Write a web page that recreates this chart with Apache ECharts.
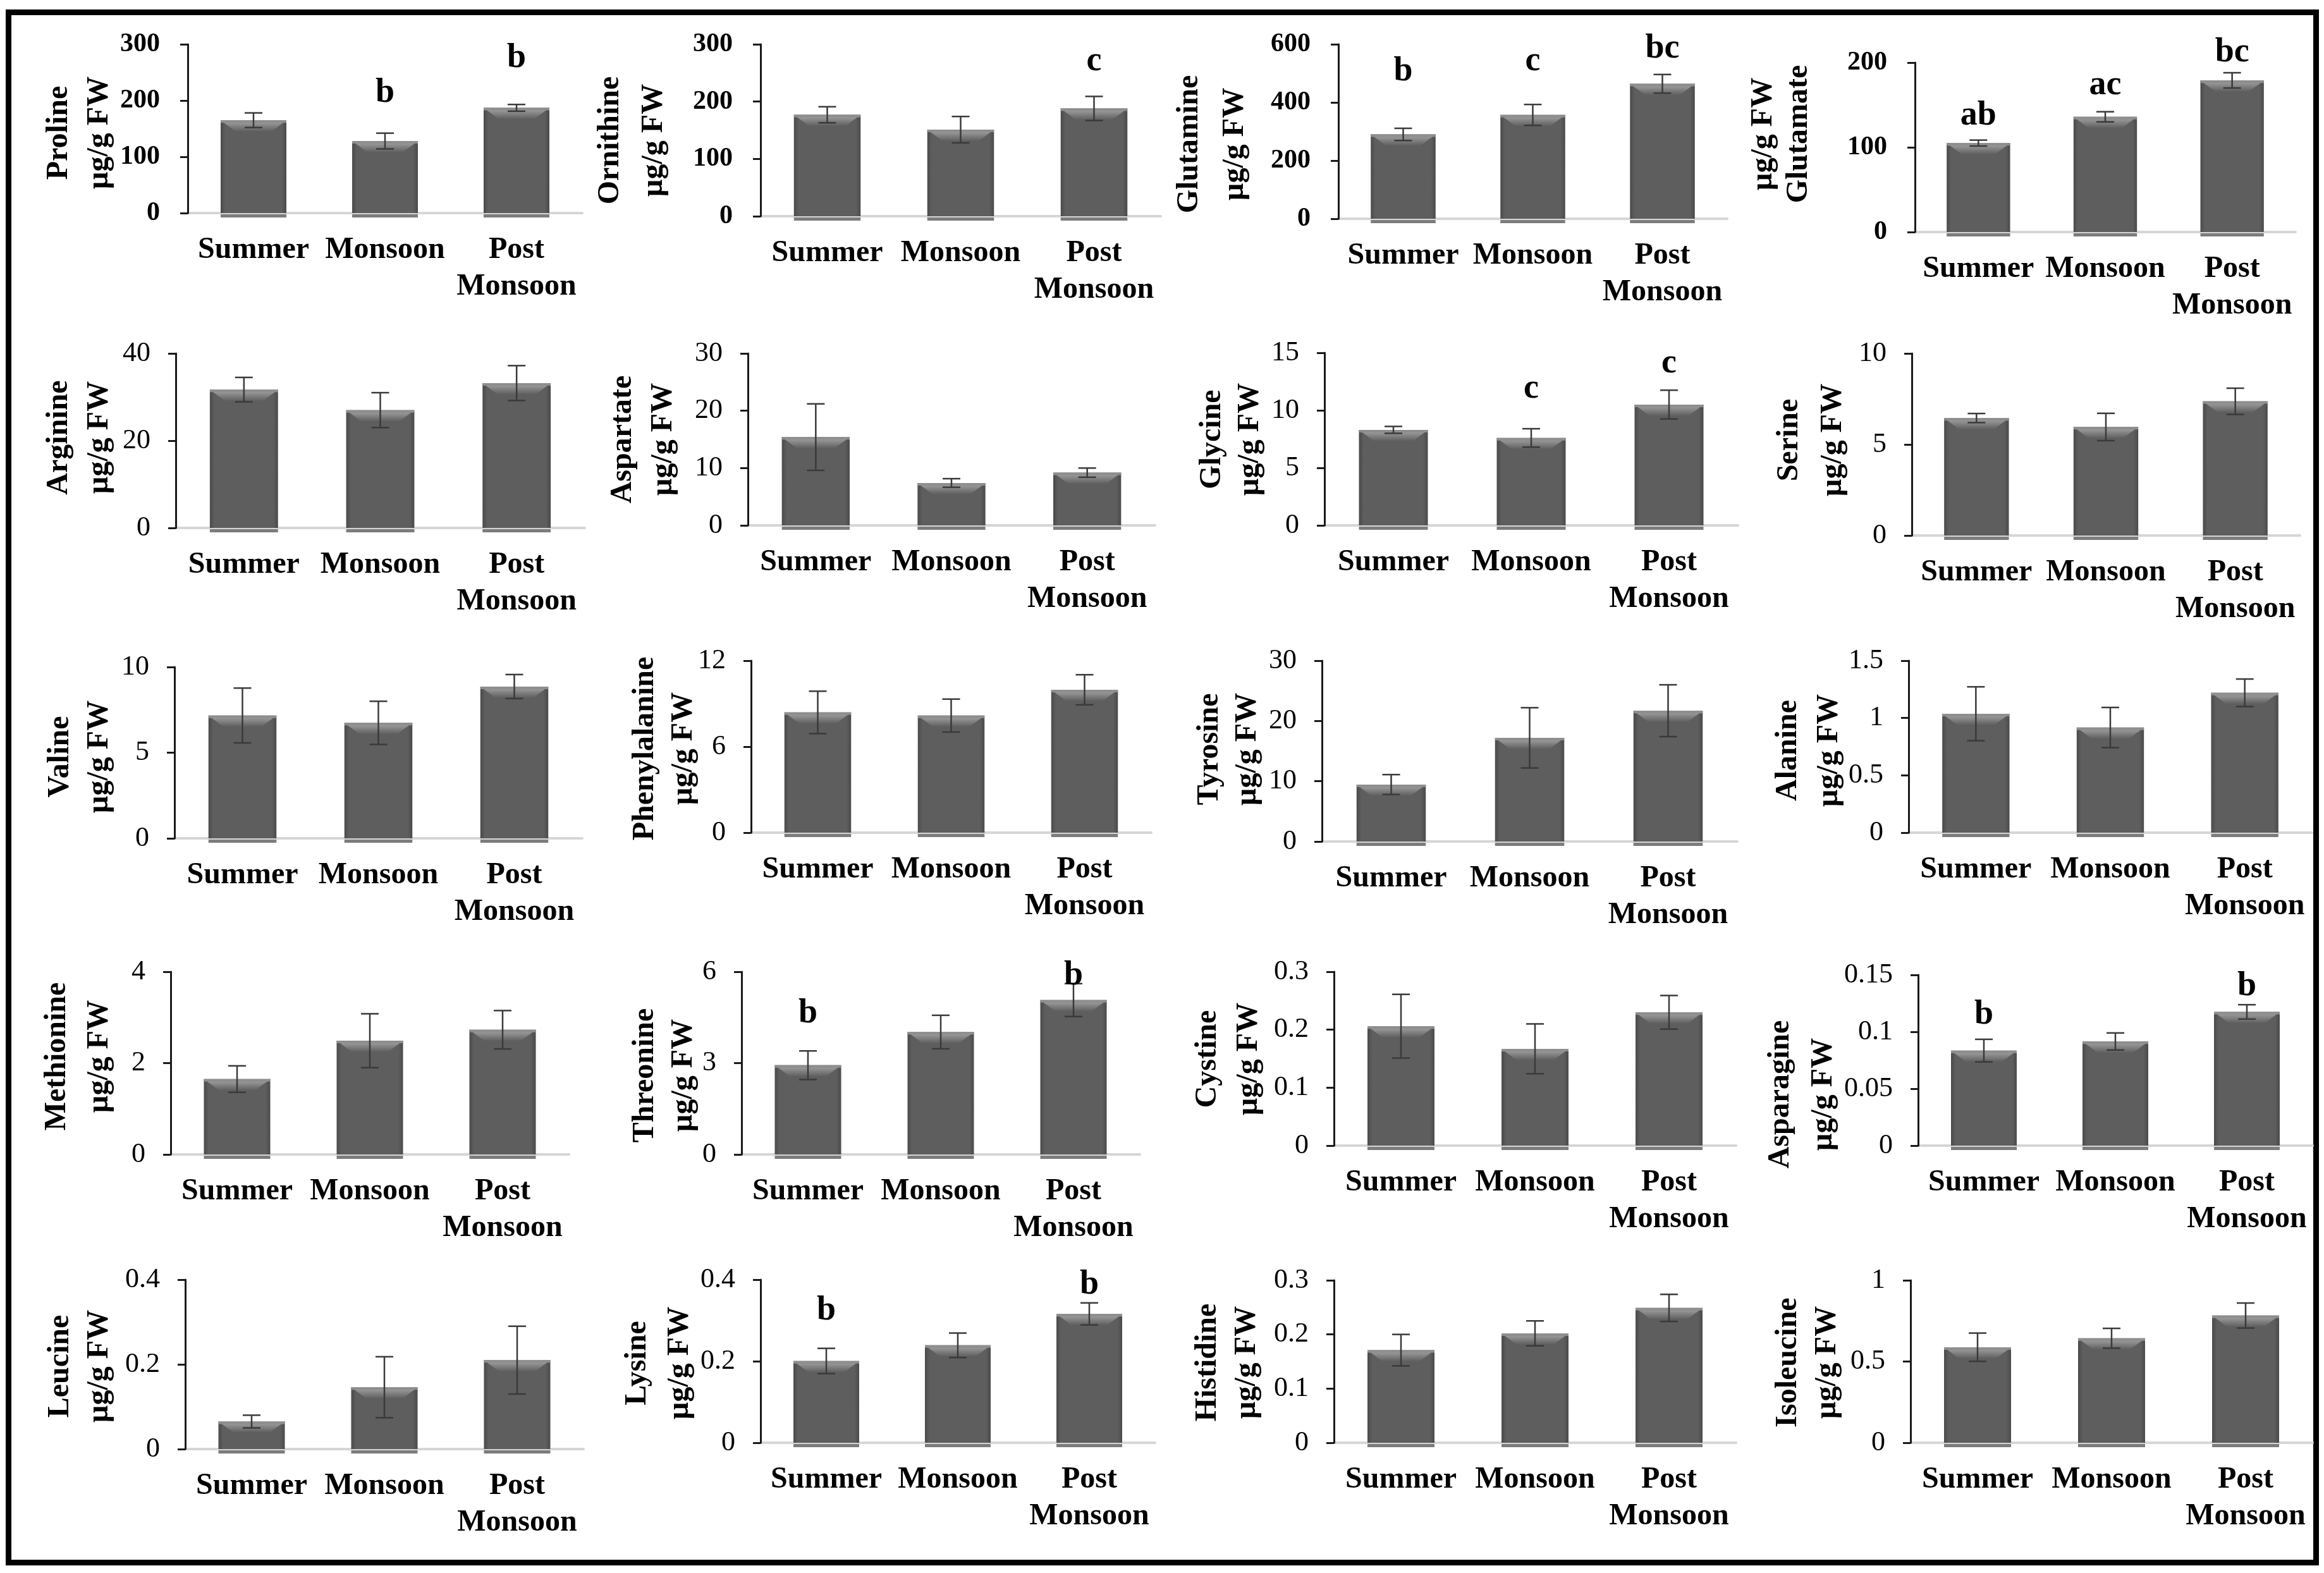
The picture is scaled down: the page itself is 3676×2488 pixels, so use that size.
<!DOCTYPE html>
<html>
<head>
<meta charset="utf-8">
<script src="https://cdn.jsdelivr.net/npm/echarts@6/dist/echarts.min.js"></script>
<style>
html,body{margin:0;padding:0;background:#fff;}
#chart{width:3676px;height:2488px;}
</style>
</head>
<body>
<div id="chart"></div>
<script>
// ---------------- data ----------------
const seasons = ['Summer', 'Monsoon', 'Post\nMonsoon'];
const unit = 'µg/g FW';
const aminoAcids = ['Proline','Ornithine','Glutamine','Glutamate','Arginine','Aspartate','Glycine','Serine',
  'Valine','Phenylalanine','Tyrosine','Alanine','Methionine','Threonine','Cystine','Asparagine',
  'Leucine','Lysine','Histidine','Isoleucine'];

const proline = [165, 128, 187];            const prolineSE = [13, 14, 6];
const ornithine = [177, 151, 188];          const ornithineSE = [14, 23, 21];
const glutamine = [290, 357, 464];          const glutamineSE = [21, 36, 32];
const glutamate = [105, 136, 179];          const glutamateSE = [3.5, 6, 9];
const arginine = [31.7, 27.0, 33.2];        const arginineSE = [2.8, 4.0, 4.0];
const aspartate = [15.4, 7.4, 9.2];         const aspartateSE = [5.8, 0.75, 0.8];
const glycine = [8.3, 7.6, 10.5];           const glycineSE = [0.3, 0.8, 1.25];
const serine = [6.45, 5.96, 7.37];          const serineSE = [0.25, 0.75, 0.72];
const valine = [7.17, 6.74, 8.86];          const valineSE = [1.6, 1.26, 0.7];
const phenylalanine = [8.39, 8.17, 9.97];   const phenylalanineSE = [1.48, 1.15, 1.05];
const tyrosine = [9.45, 17.2, 21.7];        const tyrosineSE = [1.65, 5.0, 4.3];
const alanine = [1.037, 0.917, 1.22];       const alanineSE = [0.235, 0.175, 0.12];
const methionine = [1.65, 2.49, 2.73];      const methionineSE = [0.29, 0.59, 0.42];
const threonine = [2.93, 4.02, 5.07];       const threonineSE = [0.47, 0.55, 0.54];
const cystine = [0.206, 0.167, 0.230];      const cystineSE = [0.055, 0.043, 0.029];
const asparagine = [0.0835, 0.0915, 0.1175];const asparagineSE = [0.0099, 0.0075, 0.0063];
const leucine = [0.065, 0.146, 0.210];      const leucineSE = [0.015, 0.072, 0.080];
const lysine = [0.2005, 0.239, 0.316];      const lysineSE = [0.031, 0.030, 0.027];
const histidine = [0.171, 0.202, 0.249];    const histidineSE = [0.029, 0.023, 0.025];
const isoleucine = [0.588, 0.643, 0.783];   const isoleucineSE = [0.087, 0.061, 0.077];

// significance letters
const prolineLetters = ['', 'b', 'b'];
const ornithineLetters = ['', '', 'c'];
const glutamineLetters = ['b', 'c', 'bc'];
const glutamateLetters = ['ab', 'ac', 'bc'];
const glycineLetters = ['', 'c', 'c'];
const threonineLetters = ['b', '', 'b'];
const asparagineLetters = ['b', '', 'b'];
const lysineLetters = ['b', '', 'b'];
const noLetters = ['', '', ''];

// y-axis tick settings
const axisMax  = [300, 300, 600, 200, 40, 30, 15, 10, 10, 12, 30, 1.5, 4, 6, 0.3, 0.15, 0.4, 0.4, 0.3, 1];
const axisStep = [100, 100, 200, 100, 20, 10, 5, 5, 5, 6, 10, 0.5, 2, 3, 0.1, 0.05, 0.2, 0.2, 0.1, 0.5];

const seriesValues = [proline, ornithine, glutamine, glutamate, arginine, aspartate, glycine, serine,
  valine, phenylalanine, tyrosine, alanine, methionine, threonine, cystine, asparagine,
  leucine, lysine, histidine, isoleucine];
const seriesSE = [prolineSE, ornithineSE, glutamineSE, glutamateSE, arginineSE, aspartateSE, glycineSE, serineSE,
  valineSE, phenylalanineSE, tyrosineSE, alanineSE, methionineSE, threonineSE, cystineSE, asparagineSE,
  leucineSE, lysineSE, histidineSE, isoleucineSE];
const seriesLetters = [prolineLetters, ornithineLetters, glutamineLetters, glutamateLetters, noLetters, noLetters,
  glycineLetters, noLetters, noLetters, noLetters, noLetters, noLetters, noLetters, threonineLetters,
  noLetters, asparagineLetters, noLetters, lysineLetters, noLetters, noLetters];

// ---------------- layout (pixels) ----------------
// [gridLeft, gridTop, gridWidth, gridHeight, title1X, title2X, titleY]
const layout = [
  [297, 70, 624, 267,   94, 158, 210],
  [1203, 70, 633, 272,  966, 1035, 222],
  [2117, 70, 615, 276,  1882, 1954, 228],
  [3029, 99, 602, 268,  2790, 2846, 212],
  [278, 559, 647, 276,  94, 158, 692],
  [1183, 559, 644, 272, 986, 1050, 695],
  [2095, 558, 654, 273, 1918, 1978, 695],
  [3024, 559, 614, 288, 2831, 2900, 696],
  [276, 1055, 645, 271, 96, 158, 1197],
  [1188, 1045, 633, 272, 1021, 1082, 1184],
  [2091, 1045, 657, 286, 1914, 1974, 1185],
  [3019, 1045, 638, 272, 2829, 2894, 1187],
  [270, 1537, 630, 289, 91, 158, 1671],
  [1173, 1537, 630, 289, 1021, 1082, 1701],
  [2110, 1537, 636, 275, 1911, 1976, 1675],
  [3034, 1542, 624, 270, 2817, 2885, 1731],
  [293, 2024, 630, 268, 96, 158, 2161],
  [1203, 2024, 624, 258, 1009, 1076, 2156],
  [2110, 2025, 636, 257, 1911, 1973, 2155],
  [3022, 2025, 636, 257, 2829, 2891, 2155]
];
// vertical anchor (in axis units) of significance letters
const letterAnchor = {
  0: [null, 213, 275], 1: [null, null, 270], 2: [506, 541, 585], 3: [137, 173, 212],
  6: [null, 11.87, 14.07], 13: [4.63, null, 5.88], 15: [0.115, null, 0.140], 17: [0.324, null, 0.388]
};

// ---------------- styles ----------------
const FONT = "'Liberation Serif', 'Times New Roman', serif";
const sideGrad = {type:'linear', x:0, y:0, x2:1, y2:0, colorStops:[
  {offset:0, color:'#4a4a4a'}, {offset:0.07, color:'#5e5e5e'},
  {offset:0.93, color:'#5e5e5e'}, {offset:1, color:'#4a4a4a'}]};
const topGrad = {type:'linear', x:0, y:0, x2:0, y2:1, colorStops:[
  {offset:0, color:'#a8a8a8'}, {offset:1, color:'#5e5e5e'}]};
const errStyle = {stroke:'#3a3a3a', lineWidth:2.5};

function renderBar(params, api) {
  const i = api.value(0), v = api.value(1), e = api.value(2);
  const top = api.coord([i, v]);
  const base = api.coord([i, 0]);
  const bw = api.size([1, 0])[0] * 0.5;
  const x0 = top[0] - bw / 2, x1 = top[0] + bw / 2;
  const h = base[1] - top[1];
  const bev = Math.min(18, h * 0.4), ins = Math.min(24, bw * 0.3);
  const eHi = api.coord([i, v + e])[1];
  const eLo = api.coord([i, v - e])[1];
  const cap = 14;
  return {type:'group', children:[
    {type:'rect', shape:{x:x0, y:top[1], width:bw, height:h}, style:{fill:sideGrad}},
    {type:'polygon', shape:{points:[[x0, top[1]], [x1, top[1]], [x1 - ins, top[1] + bev], [x0 + ins, top[1] + bev]]}, style:{fill:topGrad}},
    {type:'rect', shape:{x:x0, y:top[1], width:bw, height:4}, style:{fill:'#8e8e8e'}},
    {type:'rect', shape:{x:x0, y:base[1] + 2, width:bw, height:5}, style:{fill:'#7c7c7c'}},
    {type:'line', shape:{x1:top[0], y1:eHi, x2:top[0], y2:eLo}, style:errStyle},
    {type:'line', shape:{x1:top[0] - cap, y1:eHi, x2:top[0] + cap, y2:eHi}, style:errStyle},
    {type:'line', shape:{x1:top[0] - cap, y1:eLo, x2:top[0] + cap, y2:eLo}, style:errStyle}
  ]};
}

const grids = [], xAxes = [], yAxes = [], series = [], graphics = [];

aminoAcids.forEach((name, k) => {
  const L = layout[k];
  const row = Math.floor(k / 4);
  grids.push({left:L[0], top:L[1], width:L[2], height:L[3], outerBoundsMode:'none', containLabel:false});
  xAxes.push({
    type:'category', gridIndex:k, data:seasons,
    axisLine:{show:true, lineStyle:{color:'#d6d6d6', width:4}},
    axisTick:{show:false},
    axisLabel:{interval:0, color:'#000', fontFamily:FONT, fontWeight:'bold', fontSize:48, lineHeight:58, margin:30},
    splitLine:{show:false}
  });
  yAxes.push({
    type:'value', gridIndex:k, min:0, max:axisMax[k], interval:axisStep[k], z:5,
    axisLine:{show:true, lineStyle:{color:'#1a1a1a', width:3}},
    axisTick:{show:true, inside:false, length:12, lineStyle:{color:'#1a1a1a', width:3}},
    axisLabel:{color:'#000', fontFamily:FONT, fontSize: row === 0 ? 42 : 44,
      fontWeight: row === 0 ? 'bold' : 'normal', margin: row === 0 ? 44 : 40},
    splitLine:{show:false}
  });
  const vals = seriesValues[k], se = seriesSE[k];
  series.push({
    type:'custom', coordinateSystem:'cartesian2d', xAxisIndex:k, yAxisIndex:k, silent:true, clip:false,
    renderItem:renderBar,
    data: vals.map((v, i) => [i, v, se[i]])
  });
  const letters = seriesLetters[k];
  const anchor = letterAnchor[k];
  if (anchor) {
    const items = [], texts = [];
    letters.forEach((t, i) => { if (t) { items.push([i, anchor[i]]); texts.push(t); } });
    series.push({
      type:'custom', coordinateSystem:'cartesian2d', xAxisIndex:k, yAxisIndex:k, silent:true, clip:false,
      renderItem: (params, api) => {
        const p = api.coord([api.value(0), api.value(1)]);
        return {type:'text', x:p[0], y:p[1], style:{text:texts[params.dataIndex], fill:'#000',
          font:'bold 54px ' + FONT, textAlign:'center', textVerticalAlign:'middle'}};
      },
      data: items
    });
  }
  // rotated axis titles (two lines)
  const lines = name === 'Glutamate' ? [unit, name] : [name, unit];
  [L[4], L[5]].forEach((x, j) => {
    graphics.push({type:'text', x:x, y:L[6], rotation:Math.PI / 2, silent:true,
      style:{text:lines[j], fill:'#000', font:'bold 48px ' + FONT, textAlign:'center', textVerticalAlign:'middle'}});
  });
});

graphics.push({type:'rect', shape:{x:13.5, y:19.5, width:3650, height:2452}, silent:true,
  style:{fill:'none', stroke:'#000', lineWidth:9}});

const chart = echarts.init(document.getElementById('chart'), null, {renderer:'canvas', width:3676, height:2488});
chart.setOption({
  backgroundColor:'#fff',
  animation:false,
  grid:grids, xAxis:xAxes, yAxis:yAxes, series:series, graphic:graphics
});
</script>
</body>
</html>
